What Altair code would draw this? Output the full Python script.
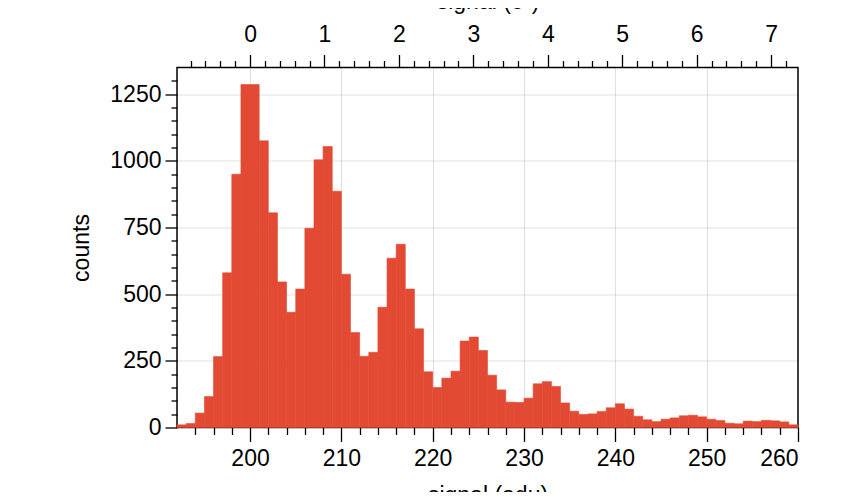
import altair as alt
import pandas as pd

# histogram bins (adu), 1 adu wide
bin_start = list(range(192, 260))
counts = [10, 15, 54, 116, 266, 580, 950, 1286, 1286, 1075,
          805, 546, 432, 519, 747, 1004, 1054, 886, 575, 356,
          267, 282, 451, 635, 687, 519, 370, 209, 150, 185,
          211, 324, 339, 289, 196, 141, 95, 94, 110, 164,
          172, 154, 92, 61, 49, 51, 60, 74, 89, 69,
          42, 29, 22, 31, 36, 44, 46, 40, 31, 26,
          16, 14, 24, 22, 27, 25, 21, 10]

x_ticks = list(range(194, 261, 2))
y_ticks = list(range(0, 1301, 50))
e_ticks = [round(-0.8 + 0.2 * i, 1) for i in range(41)]

offset_adu = 200.0
gain = 8.15
x_min, x_max = 192, 260

df = pd.DataFrame({"start": bin_start,
                   "end": [b + 1 for b in bin_start],
                   "count": counts})

FONT = "Liberation Sans"
FS = 23
RED = "#e24a33"

bars = alt.Chart(df).mark_bar(color=RED, stroke=RED, strokeWidth=0.6).encode(
    x=alt.X("start:Q",
            scale=alt.Scale(domain=[x_min, x_max], nice=False, zero=False),
            axis=alt.Axis(orient="bottom", values=x_ticks, title="signal (adu)",
                          labelExpr="datum.value % 10 === 0 ? datum.label : ''",
                          tickSize={"condition": {"test": "datum.value % 10 === 0", "value": 14}, "value": 7},
                          grid=True,
                          gridOpacity={"condition": {"test": "datum.value % 10 === 0 && datum.value < 260", "value": 0.12}, "value": 0},
                          labelPadding=6, titlePadding=14)),
    x2="end:Q",
    y=alt.Y("count:Q",
            scale=alt.Scale(domain=[0, 1350], nice=False),
            axis=alt.Axis(values=y_ticks, title="counts", format="d",
                          labelExpr="datum.value % 250 === 0 ? datum.label : ''",
                          tickSize={"condition": {"test": "datum.value % 250 === 0", "value": 12}, "value": 6},
                          grid=True,
                          gridOpacity={"condition": {"test": "datum.value % 250 === 0 && datum.value > 0", "value": 0.12}, "value": 0},
                          labelPadding=4, titlePadding=16)),
    y2=alt.datum(0),
)

top = alt.Chart(df).transform_calculate(
    e=f"(datum.start - {offset_adu}) / {gain}"
).mark_point(opacity=0).encode(
    x=alt.X("e:Q",
            scale=alt.Scale(domain=[(x_min - offset_adu) / gain, (x_max - offset_adu) / gain],
                            nice=False, zero=False),
            axis=alt.Axis(orient="top", values=e_ticks, title="signal (e⁻)",
                          labelExpr="abs(datum.value - round(datum.value)) < 0.001 ? format(round(datum.value), 'd') : ''",
                          tickSize={"condition": {"test": "abs(datum.value - round(datum.value)) < 0.001", "value": 13}, "value": 7},
                          grid=False, labelPadding=8, titlePadding=10)),
)

chart = alt.layer(bars, top).resolve_scale(x="independent").properties(
    width=621, height=360,
    autosize=alt.AutoSizeParams(type="none"),
    padding={"left": 169, "top": 59.5, "right": 49, "bottom": 64},
).configure_view(
    stroke="black", strokeWidth=1.5
).configure_axis(
    labelFont=FONT, titleFont=FONT, labelFontSize=FS, titleFontSize=FS,
    titleFontWeight="normal", labelColor="black", titleColor="black",
    tickColor="black", tickWidth=1.3, domain=False, gridColor="black",
    gridWidth=1, zindex=1,
)

chart.save("out.html", embed_options={"renderer": "svg", "actions": False})
